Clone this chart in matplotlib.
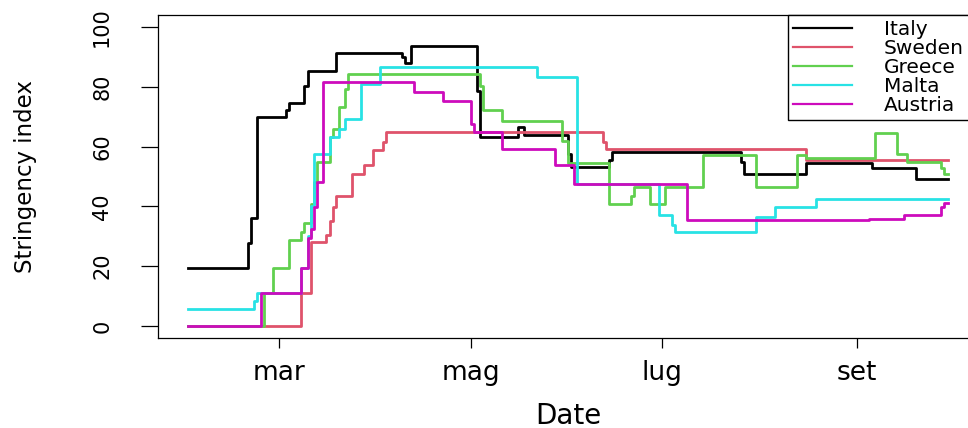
import matplotlib
matplotlib.use('Agg')
import matplotlib.pyplot as plt
import pandas as pd

# Stringency index, 2020, values at each step change
start_date = '2020-02-01'
end_date = '2020-09-30'

italy_dates = ['2020-02-01', '2020-02-20', '2020-02-21', '2020-02-23', '2020-03-03',
               '2020-03-04', '2020-03-09', '2020-03-10', '2020-03-19', '2020-04-09',
               '2020-04-10', '2020-04-12', '2020-05-03', '2020-05-04', '2020-05-16',
               '2020-05-18', '2020-06-01', '2020-06-02', '2020-06-14', '2020-06-15',
               '2020-07-26', '2020-07-27', '2020-08-16', '2020-09-06', '2020-09-20']
italy_values = [19.4, 27.8, 36.1, 69.9, 72.2,
                74.5, 80.1, 85.2, 91.4, 89.8,
                88.0, 93.5, 78.7, 63.1, 66.4,
                64.0, 57.6, 53.1, 55.5, 58.3,
                55.0, 50.9, 54.4, 52.9, 49.0]

sweden_dates = ['2020-02-01', '2020-03-08', '2020-03-11', '2020-03-16', '2020-03-17',
                '2020-03-18', '2020-03-19', '2020-03-24', '2020-03-28', '2020-03-31',
                '2020-04-03', '2020-04-04', '2020-06-12', '2020-06-13', '2020-08-16']
sweden_values = [0.0, 11.1, 28.1, 30.6, 35.2,
                 39.8, 43.5, 50.9, 53.7, 58.7,
                 61.6, 64.8, 61.6, 59.3, 55.6]

greece_dates = ['2020-02-01', '2020-02-25', '2020-02-28', '2020-03-04', '2020-03-08',
                '2020-03-09', '2020-03-11', '2020-03-12', '2020-03-13', '2020-03-17',
                '2020-03-18', '2020-03-20', '2020-03-22', '2020-03-23', '2020-05-04',
                '2020-05-05', '2020-05-11', '2020-05-30', '2020-06-01', '2020-06-14',
                '2020-06-21', '2020-06-22', '2020-06-27', '2020-07-02', '2020-07-14',
                '2020-07-31', '2020-08-13', '2020-08-16', '2020-09-07', '2020-09-14',
                '2020-09-17', '2020-09-28', '2020-09-29']
greece_values = [0.0, 11.1, 19.4, 28.7, 31.5,
                 34.3, 40.9, 48.1, 54.8, 63.1,
                 65.9, 73.1, 79.2, 84.3, 80.3,
                 72.2, 68.7, 62.0, 54.4, 40.9,
                 43.5, 46.4, 40.9, 46.4, 57.3,
                 46.4, 57.3, 56.1, 64.6, 57.6,
                 54.8, 53.0, 50.9]

malta_dates = ['2020-02-01', '2020-02-22', '2020-02-23', '2020-03-08', '2020-03-10',
               '2020-03-11', '2020-03-12', '2020-03-17', '2020-03-20', '2020-03-22',
               '2020-03-27', '2020-04-02', '2020-05-22', '2020-06-04', '2020-06-30',
               '2020-07-04', '2020-07-05', '2020-07-31', '2020-08-06', '2020-08-19']
malta_values = [5.6, 8.3, 11.1, 19.4, 30.0,
                40.0, 57.6, 63.1, 65.9, 69.2,
                80.9, 86.7, 83.3, 47.6, 37.0,
                33.7, 31.5, 36.4, 39.8, 42.6]

austria_dates = ['2020-02-01', '2020-02-24', '2020-03-08', '2020-03-10', '2020-03-11',
                 '2020-03-12', '2020-03-13', '2020-03-15', '2020-04-13', '2020-04-22',
                 '2020-05-01', '2020-05-02', '2020-05-11', '2020-05-28', '2020-06-03',
                 '2020-07-09', '2020-09-05', '2020-09-16', '2020-09-28', '2020-09-29']
austria_values = [0.0, 11.1, 19.4, 29.6, 32.4,
                  39.8, 48.1, 81.5, 78.1, 75.3,
                  67.6, 64.8, 59.3, 53.7, 47.6,
                  35.3, 35.9, 37.0, 39.8, 41.1]

countries = ['Italy', 'Sweden', 'Greece', 'Malta', 'Austria']
colors = ['#000000', '#DF536B', '#61D04F', '#28E2E5', '#CD0BBC']
series_dates = [italy_dates, sweden_dates, greece_dates, malta_dates, austria_dates]
series_values = [italy_values, sweden_values, greece_values, malta_values, austria_values]

tick_dates = ['2020-03-01', '2020-05-01', '2020-07-01', '2020-09-01']
tick_labels = ['mar', 'mag', 'lug', 'set']
y_ticks = [0, 20, 40, 60, 80, 100]

narrow = ['Liberation Sans Narrow', 'DejaVu Sans Condensed', 'DejaVu Sans']

fig = plt.figure(figsize=(9.68, 4.28), dpi=100)
# plot region runs past the right edge of the picture, like the reference crop
ax = fig.add_axes([158 / 968, 90 / 428, 820 / 968, 323 / 428])

for name, col, d, v in zip(countries, colors, series_dates, series_values):
    s = pd.Series(v, index=pd.to_datetime(d))
    s[pd.Timestamp(end_date)] = v[-1]
    ax.plot(s.index, s.values, drawstyle='steps-post', color=col, lw=2.0, label=name)

t0, t1 = pd.Timestamp(start_date), pd.Timestamp(end_date)
pad = (t1 - t0) * 0.04
ax.set_xlim(t0 - pad, t1 + pad)
ax.set_ylim(-4, 104)

ax.set_xticks(pd.to_datetime(tick_dates), tick_labels, fontsize=19, family='DejaVu Sans')
ax.set_yticks(y_ticks, [str(t) for t in y_ticks], rotation=90, va='center',
              fontsize=15, family=narrow)
ax.tick_params(axis='x', length=7.2, width=0.9, pad=8.5)
ax.tick_params(axis='y', length=12, width=0.9, pad=21)

for sp in ax.spines.values():
    sp.set_linewidth(0.9)

ax.set_xlabel('Date', fontsize=20, family='DejaVu Sans')
ax.xaxis.set_label_coords(0.5, -0.197)
ax.set_ylabel('Stringency index', fontsize=16.5, family=narrow)
ax.yaxis.set_label_coords(-0.1476, 0.5)

leg = ax.legend(loc='upper right', bbox_to_anchor=(0.989, 1), borderaxespad=0,
                fontsize=14.5, labelspacing=0.0, borderpad=0.25,
                handlelength=2.9, handletextpad=1.6, fancybox=False,
                edgecolor='black', framealpha=1)
leg.get_frame().set_linewidth(1.0)
for h in leg.get_lines():
    h.set_linewidth(1.6)

fig.savefig('out.png', dpi=100)
